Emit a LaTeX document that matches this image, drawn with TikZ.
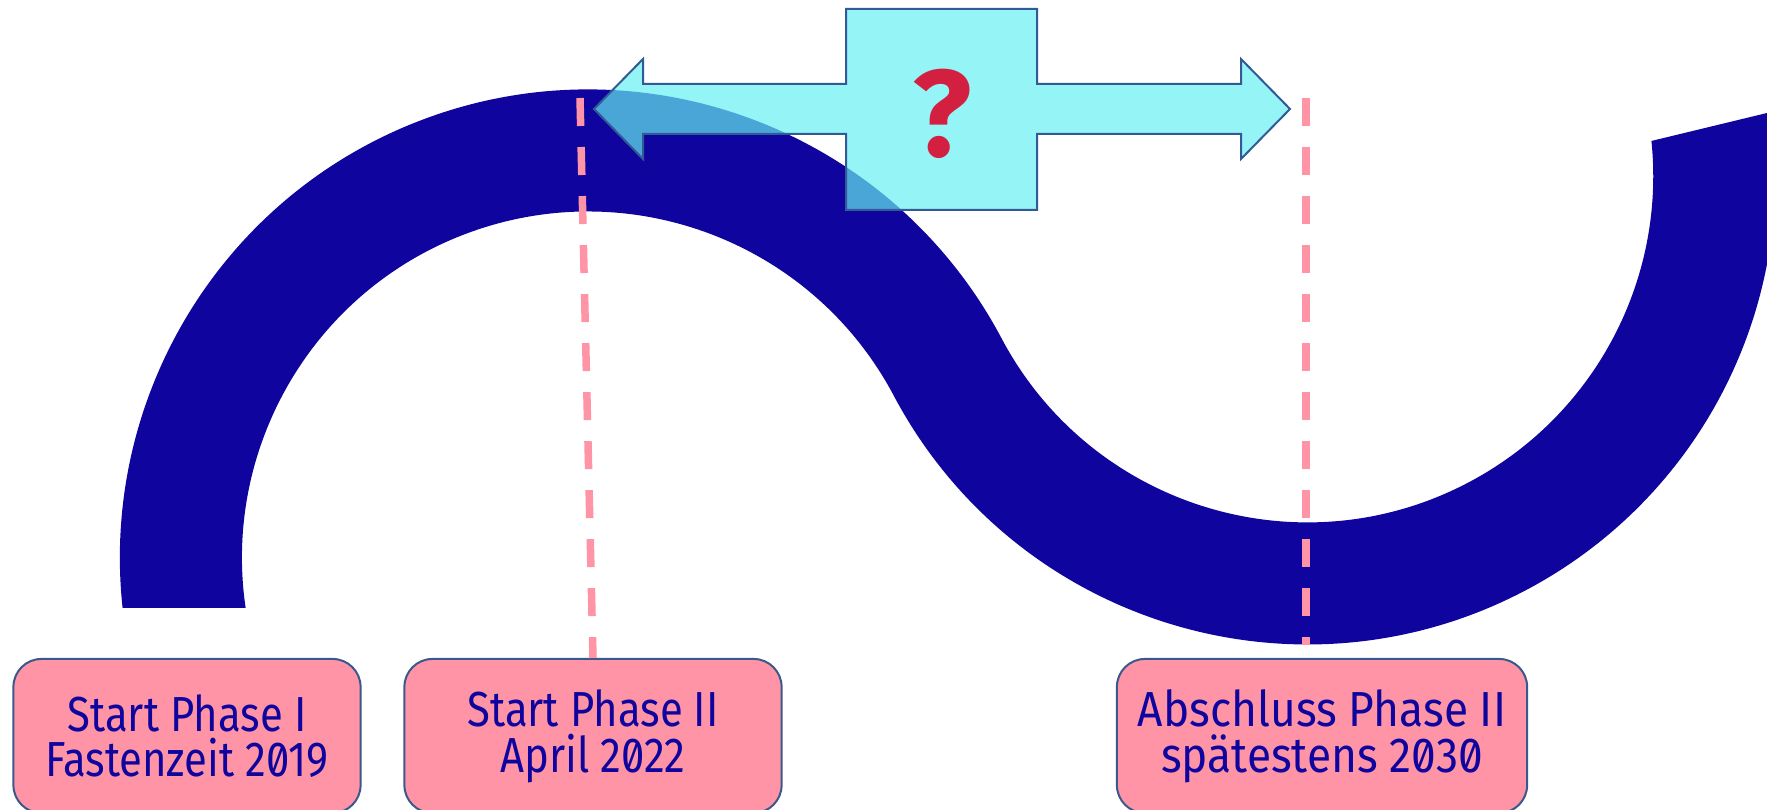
\documentclass[tikz,border=0pt]{standalone}
\usepackage{fontspec}
\setmainfont{Fira Sans}[Numbers=SlashedZero]
\newfontfamily\narrowfont{Fira Sans}[FakeStretch=0.85,Numbers=SlashedZero]
\newfontfamily\midfont{Fira Sans}[FakeStretch=0.9,Numbers=SlashedZero]
\usetikzlibrary{calc}

\definecolor{wavecol}{RGB}{15,5,158}
\definecolor{pinkcol}{RGB}{255,148,166}
\definecolor{boxedge}{RGB}{58,88,140}
\definecolor{arrowcol}{RGB}{100,239,242}
\definecolor{arrowedge}{RGB}{50,90,150}
\definecolor{qcol}{RGB}{212,32,64}

\begin{document}
\begin{tikzpicture}[x=0.01cm, y=0.01cm,
	phasebox/.style={draw=boxedge, line width=0.02cm, fill=pinkcol, rounded corners=0.28cm,
		minimum height=1.54cm, inner sep=0pt, align=center, text=wavecol,
		font=\midfont\fontsize{14}{13}\selectfont},
	narrowbox/.style={phasebox, font=\narrowfont\fontsize{14}{13}\selectfont},
	marker/.style={draw=pinkcol, line width=0.075cm, dash pattern=on 0.28cm off 0.21cm}]
	\def \rad {407} % radius of both bows
	\def \tang {27.92} % where the two bows meet
	
	\useasboundingbox (0,0) rectangle (1767,809);
	\clip (0,0) rectangle (1767,809);
	
	\coordinate (A) at (588,251.5);
	\coordinate (B) at (1307,632.6);
	
	% the wave, both ends cut straight by the clip
	\begin{scope}
		\clip (0,201) -- (400,201) -- (400,0) -- (1767,0) -- (1767,696) -- (1600,655.6)
		-- (1600,809) -- (0,809) -- cycle;
		\draw[wavecol, line width=1.22cm] ($(A)+(200:\rad)$)
		arc[start angle=200, end angle=\tang, radius=\rad]
		arc[start angle=180+\tang, end angle=374, radius=\rad];
	\end{scope}
	
	\node[narrowbox, minimum width=3.47cm] (start1) at (187,73) {Start Phase I\\Fastenzeit 2019};
	\node[narrowbox, minimum width=3.77cm] (start2) at (593,73) {Start Phase II\\April 2022};
	\node[phasebox, minimum width=4.10cm] (ende2) at (1322,73) {Abschluss Phase II\\spätestens 2030};
	
	\coordinate (mark1) at (580,711);
	\coordinate (mark2) at (1306,711);
	\coordinate (mark2end) at (1306,164);
	\draw[marker] (mark1) -- (start2.north);
	\draw[marker] (mark2) -- (mark2end);
	
	% double arrow with the square in the middle
	\filldraw[draw=arrowedge, line width=0.02cm, fill=arrowcol, fill opacity=0.69]
	(594,700) -- (643,750) -- (643,725) -- (846,725) -- (846,800) -- (1037,800)
	-- (1037,725) -- (1241,725) -- (1241,750) -- (1290,700) -- (1241,650) -- (1241,675)
	-- (1037,675) -- (1037,599) -- (846,599) -- (846,675) -- (643,675) -- (643,650) -- cycle;
	\node[text=qcol, font=\fontsize{35}{35}\selectfont\bfseries] (qmark) at (942,695) {?};
\end{tikzpicture}
\end{document}
